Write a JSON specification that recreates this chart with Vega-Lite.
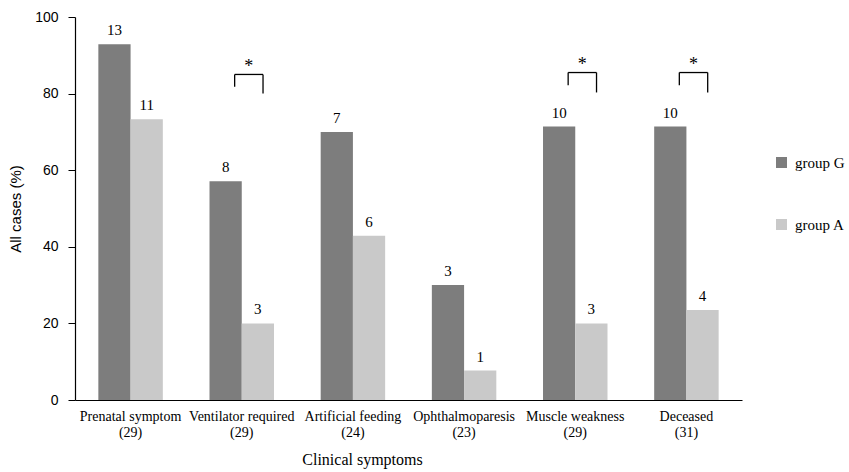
{
  "$schema": "https://vega.github.io/schema/vega-lite/v6.json",
  "width": 667,
  "height": 383,
  "autosize": "none",
  "padding": {"left": 75, "top": 17, "right": 107, "bottom": 72},
  "config": {
    "view": {"stroke": null},
    "font": "Liberation Serif",
    "text": {"font": "Liberation Serif"},
    "axis": {"labelFont": "Liberation Serif", "titleFont": "Liberation Serif", "labelColor": "#000", "titleColor": "#000", "domainColor": "#000", "tickColor": "#000", "titleFontWeight": "normal", "grid": false},
    "legend": {"labelFont": "Liberation Serif"}
  },
  "datasets": {
    "bars": [
      {"cat": "Prenatal symptom|(29)", "group": "group G", "pct": 92.9, "n": "13"},
      {"cat": "Prenatal symptom|(29)", "group": "group A", "pct": 73.3, "n": "11"},
      {"cat": "Ventilator required|(29)", "group": "group G", "pct": 57.1, "n": "8"},
      {"cat": "Ventilator required|(29)", "group": "group A", "pct": 20.0, "n": "3"},
      {"cat": "Artificial feeding|(24)", "group": "group G", "pct": 70.0, "n": "7"},
      {"cat": "Artificial feeding|(24)", "group": "group A", "pct": 42.9, "n": "6"},
      {"cat": "Ophthalmoparesis|(23)", "group": "group G", "pct": 30.0, "n": "3"},
      {"cat": "Ophthalmoparesis|(23)", "group": "group A", "pct": 7.7, "n": "1"},
      {"cat": "Muscle weakness|(29)", "group": "group G", "pct": 71.4, "n": "10"},
      {"cat": "Muscle weakness|(29)", "group": "group A", "pct": 20.0, "n": "3"},
      {"cat": "Deceased|(31)", "group": "group G", "pct": 71.4, "n": "10"},
      {"cat": "Deceased|(31)", "group": "group A", "pct": 23.5, "n": "4"}
    ],
    "brackets": [
      {"cat": "Ventilator required|(29)", "top": 85.0, "left": 81.8, "right": 80.0, "star": 87.0, "sig": "*"},
      {"cat": "Muscle weakness|(29)", "top": 85.5, "left": 82.2, "right": 80.3, "star": 87.5, "sig": "*"},
      {"cat": "Deceased|(31)", "top": 85.5, "left": 82.2, "right": 80.3, "star": 87.5, "sig": "*"}
    ]
  },
  "layer": [
    {
      "data": {"name": "bars"},
      "mark": {"type": "bar"},
      "encoding": {
        "x": {
          "field": "cat", "type": "nominal", "title": "Clinical symptoms",
          "scale": {"domain": ["Prenatal symptom|(29)", "Ventilator required|(29)", "Artificial feeding|(24)", "Ophthalmoparesis|(23)", "Muscle weakness|(29)", "Deceased|(31)"], "paddingInner": 0.42, "paddingOuter": 0.21},
          "axis": {"labelExpr": "split(datum.value, '|')", "labelAngle": 0, "labelFontSize": 14, "labelLineHeight": 16, "labelPadding": 9, "ticks": false, "titleFontSize": 16, "titlePadding": 12, "titleX": 287, "domainWidth": 1.2}
        },
        "xOffset": {"field": "group", "type": "nominal", "sort": ["group G", "group A"]},
        "y": {
          "field": "pct", "type": "quantitative", "title": "All cases (%)",
          "scale": {"domain": [0, 100], "nice": false},
          "axis": {"values": [0, 20, 40, 60, 80, 100], "labelFont": "Liberation Sans", "labelFontSize": 14, "tickSize": 7, "labelPadding": 10, "titleFont": "Liberation Sans", "titleFontSize": 15, "titlePadding": 11, "domainWidth": 1.2}
        },
        "color": {
          "field": "group", "type": "nominal",
          "scale": {"domain": ["group G", "group A"], "range": ["#7d7d7d", "#c9c9c9"]},
          "legend": {"title": null, "orient": "none", "legendX": 699, "legendY": 138, "symbolType": "square", "symbolSize": 121, "symbolStrokeWidth": 0, "labelFontSize": 15, "rowPadding": 46, "labelOffset": 6, "padding": 0}
        }
      }
    },
    {
      "data": {"name": "bars"},
      "mark": {"type": "text", "baseline": "bottom", "dy": -6, "fontSize": 15, "color": "#000", "font": "Liberation Serif"},
      "encoding": {
        "x": {"field": "cat", "type": "nominal", "title": "Clinical symptoms"},
        "xOffset": {"field": "group", "type": "nominal", "sort": ["group G", "group A"]},
        "y": {"field": "pct", "type": "quantitative", "title": "All cases (%)"},
        "text": {"field": "n"}
      }
    },
    {
      "data": {"name": "brackets"},
      "mark": {"type": "rule", "color": "#000", "strokeWidth": 1.3},
      "encoding": {
        "x": {"field": "cat", "type": "nominal", "bandPosition": 0.39, "title": "Clinical symptoms"},
        "x2": {"field": "cat", "bandPosition": 0.83},
        "y": {"field": "top", "type": "quantitative", "title": "All cases (%)"}
      }
    },
    {
      "data": {"name": "brackets"},
      "mark": {"type": "rule", "color": "#000", "strokeWidth": 1.3},
      "encoding": {
        "x": {"field": "cat", "type": "nominal", "bandPosition": 0.39, "title": "Clinical symptoms"},
        "y": {"field": "top", "type": "quantitative", "title": "All cases (%)"},
        "y2": {"field": "left"}
      }
    },
    {
      "data": {"name": "brackets"},
      "mark": {"type": "rule", "color": "#000", "strokeWidth": 1.3},
      "encoding": {
        "x": {"field": "cat", "type": "nominal", "bandPosition": 0.83, "title": "Clinical symptoms"},
        "y": {"field": "top", "type": "quantitative", "title": "All cases (%)"},
        "y2": {"field": "right"}
      }
    },
    {
      "data": {"name": "brackets"},
      "mark": {"type": "text", "fontSize": 18, "color": "#000", "baseline": "middle", "font": "Liberation Serif"},
      "encoding": {
        "x": {"field": "cat", "type": "nominal", "bandPosition": 0.61, "title": "Clinical symptoms"},
        "y": {"field": "star", "type": "quantitative", "title": "All cases (%)"},
        "text": {"field": "sig"}
      }
    }
  ]
}
